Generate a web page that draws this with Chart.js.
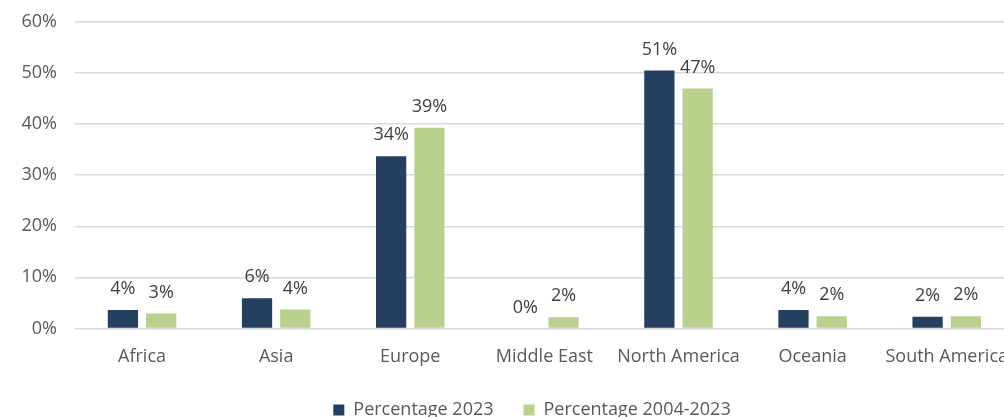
<!DOCTYPE html>
<html lang="en">
<head>
  <meta charset="UTF-8">
  <title>Percentage by region</title>
  <script src="https://cdn.jsdelivr.net/npm/chart.js"></script>
  <style>
    html, body { margin: 0; padding: 0; overflow: hidden; background: #fff; }
    #wrap { width: 1018px; height: 436px; }
  </style>
</head>
<body>
  <div id="wrap"><canvas id="regionChart"></canvas></div>
  <script>
    // Categories and values
    const regions = ['Africa', 'Asia', 'Europe', 'Middle East', 'North America', 'Oceania', 'South America'];
    const pct2023 = [3.6, 5.9, 33.7, 0, 50.5, 3.6, 2.3];
    const pct2004to2023 = [2.9, 3.7, 39.3, 2.2, 47.0, 2.4, 2.4];
    const yTicks = [0, 10, 20, 30, 40, 50, 60];

    const textColor = '#595959';
    const fontFamily = '"Open Sans", "Noto Sans", sans-serif';
    Chart.defaults.font.family = fontFamily;

    // draws rounded percentage labels above each bar
    const barLabels = {
      id: 'barLabels',
      afterDatasetsDraw(chart) {
        const ctx = chart.ctx;
        ctx.save();
        ctx.font = '18px ' + fontFamily;
        ctx.fillStyle = '#404040';
        ctx.textAlign = 'center';
        ctx.textBaseline = 'bottom';
        chart.data.datasets.forEach((ds, i) => {
          chart.getDatasetMeta(i).data.forEach((bar, j) => {
            ctx.fillText(Math.round(ds.data[j]) + '%', bar.x, bar.y - 12);
          });
        });
        ctx.restore();
      }
    };

    // the original legend sits a little right of the visible centre and closer to the axis labels
    const legendShift = {
      id: 'legendShift',
      afterLayout(chart) {
        const lg = chart.legend;
        lg.left += 23;
        lg.right += 23;
        lg.top -= 7;
        lg.bottom -= 7;
      }
    };

    new Chart(document.getElementById('regionChart'), {
      type: 'bar',
      data: {
        labels: regions,
        datasets: [
          { label: 'Percentage 2023', data: pct2023, backgroundColor: '#243f60' },
          { label: 'Percentage 2004-2023', data: pct2004to2023, backgroundColor: '#b9d18c' }
        ]
      },
      options: {
        responsive: true,
        maintainAspectRatio: false,
        animation: false,
        categoryPercentage: 0.571,
        barPercentage: 0.79,
        layout: { padding: { top: 22, right: 0, bottom: 0, left: 0 } },
        plugins: {
          legend: {
            position: 'bottom',
            labels: { color: textColor, font: { size: 18 }, boxWidth: 11, boxHeight: 11, padding: 30 }
          },
          tooltip: { enabled: false }
        },
        scales: {
          x: {
            grid: { display: false },
            border: { display: false },
            ticks: { color: textColor, font: { size: 18 }, padding: 10, maxRotation: 0, autoSkip: false }
          },
          y: {
            min: 0,
            max: 60,
            afterBuildTicks: axis => { axis.ticks = yTicks.map(v => ({ value: v })); },
            afterFit: axis => {
              axis.width = 75;
              axis.paddingTop = 0;
              axis.paddingBottom = 0;
            },
            grid: { color: '#d9d9d9', lineWidth: 1.5, drawTicks: false },
            border: { display: false },
            ticks: { color: textColor, font: { size: 18 }, padding: 18, callback: v => v + '%' }
          }
        }
      },
      plugins: [barLabels, legendShift]
    });
  </script>
</body>
</html>
